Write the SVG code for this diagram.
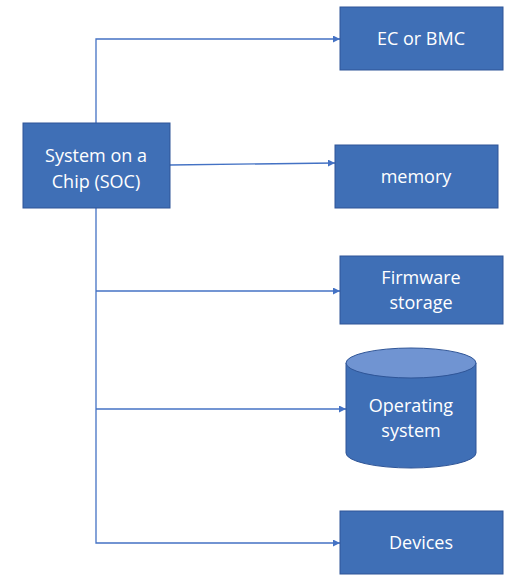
<svg xmlns="http://www.w3.org/2000/svg" width="528" height="588" viewBox="0 0 528 588">
<style>
.box{fill:#3f6fb6;stroke:#2f5597;stroke-width:1}
.t{font-family:"Open Sans","Liberation Sans",sans-serif;font-size:18px;fill:#ffffff;text-anchor:middle}
.c{fill:none;stroke:#4472c4;stroke-width:1.3}
</style>
<defs>
<marker id="ah" viewBox="0 0 10 10" refX="10" refY="5" markerWidth="7" markerHeight="7" markerUnits="userSpaceOnUse" orient="auto">
<path d="M0,0 L10,5 L0,10 z" fill="#4472c4"/>
</marker>
</defs>
<rect width="528" height="588" fill="#ffffff"/>
<g id="connectors">
<path class="c" d="M96,123 V39 H340" marker-end="url(#ah)"/>
<path class="c" d="M170,165 L335,163" marker-end="url(#ah)"/>
<path class="c" d="M96,208 V543 H340" marker-end="url(#ah)"/>
<path class="c" d="M96,291 H340" marker-end="url(#ah)"/>
<path class="c" d="M96,409 H346" marker-end="url(#ah)"/>
</g>
<g id="soc">
<rect class="box" x="23" y="123" width="147" height="85"/>
<text class="t" x="96" y="162">System on a</text>
<text class="t" x="96" y="188">Chip (SOC)</text>
</g>
<g id="ec">
<rect class="box" x="340" y="7" width="163" height="63"/>
<text class="t" x="421" y="45">EC or BMC</text>
</g>
<g id="memory">
<rect class="box" x="335" y="145" width="163" height="63"/>
<text class="t" x="416" y="183">memory</text>
</g>
<g id="firmware">
<rect class="box" x="340" y="256" width="163" height="68"/>
<text class="t" x="421" y="284">Firmware</text>
<text class="t" x="421" y="309">storage</text>
</g>
<g id="os">
<path d="M346,363 V453 A65,15 0 0 0 476,453 V363 Z" fill="#3f6fb6" stroke="#2f5597" stroke-width="1"/>
<ellipse cx="411" cy="363" rx="65" ry="15" fill="#7094d2" stroke="#2f5597" stroke-width="1"/>
<text class="t" x="411" y="412">Operating</text>
<text class="t" x="411" y="437">system</text>
</g>
<g id="devices">
<rect class="box" x="340" y="511" width="163" height="63"/>
<text class="t" x="421" y="549">Devices</text>
</g>
</svg>
